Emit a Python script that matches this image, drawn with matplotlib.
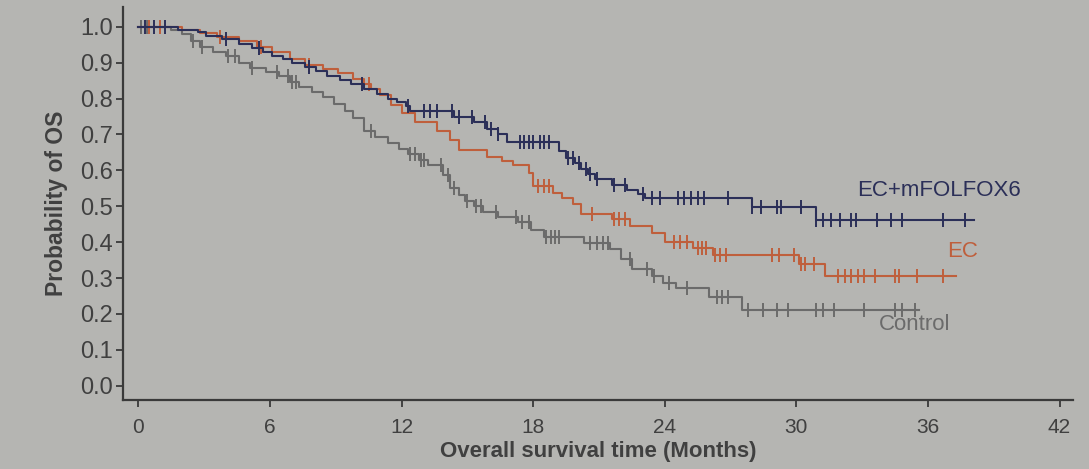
import numpy as np
import matplotlib.pyplot as plt
import matplotlib as mpl

mpl.rcParams["font.family"] = ["Liberation Sans", "DejaVu Sans"]

# ── Data (months / survival probability) ──────────────────────────────────────
combo_t = [0, 1.8, 2.7, 3.1, 3.8, 4.6, 5.2, 5.7, 6.1, 6.6, 7.0, 7.6, 8.1, 8.6,
           9.2, 9.7, 10.3, 10.9, 11.4, 11.8, 12.2, 12.4, 14.4, 15.3, 15.9, 16.4,
           16.8, 19.2, 19.5, 19.9, 20.2, 20.5, 20.8, 21.6, 22.3, 22.8, 23.1,
           28.0, 30.9, 38.1]
combo_s = [1.0, 0.99, 0.985, 0.975, 0.965, 0.953, 0.94, 0.93, 0.918, 0.91, 0.90,
           0.888, 0.876, 0.864, 0.852, 0.84, 0.828, 0.813, 0.80, 0.79, 0.778,
           0.765, 0.748, 0.735, 0.715, 0.70, 0.68, 0.655, 0.635, 0.62, 0.605,
           0.59, 0.576, 0.558, 0.545, 0.535, 0.522, 0.498, 0.463, 0.463]
combo_cens = [0.3, 0.7, 1.2, 4.0, 5.5, 7.8, 10.2, 12.3, 13.0, 13.3, 13.6, 14.3,
              14.6, 15.2, 15.8, 16.1, 16.4, 17.4, 17.6, 17.8, 18.0, 18.3, 18.5,
              18.7, 19.6, 19.8, 20.1, 20.4, 20.6, 20.9, 21.7, 22.2, 23.0, 23.4,
              23.8, 24.6, 24.9, 25.2, 25.5, 25.8, 26.9, 28.0, 28.4, 29.1, 29.3,
              30.2, 30.9, 31.2, 31.6, 32.0, 32.5, 32.7, 33.7, 34.3, 34.8, 36.7,
              37.7]

ec_t = [0, 2.0, 2.8, 3.6, 4.6, 5.4, 6.1, 6.9, 7.6, 8.4, 9.1, 9.8, 10.3, 10.6,
        11.0, 11.5, 12.0, 12.6, 13.6, 14.2, 14.6, 15.9, 16.6, 17.1, 17.8, 18.0,
        18.9, 19.3, 19.8, 20.2, 21.6, 22.4, 23.4, 24.0, 25.3, 26.2, 30.1, 31.3,
        37.3]
ec_s = [1.0, 0.99, 0.984, 0.972, 0.96, 0.945, 0.93, 0.91, 0.893, 0.882, 0.871,
        0.855, 0.84, 0.827, 0.81, 0.783, 0.76, 0.735, 0.71, 0.685, 0.658, 0.638,
        0.625, 0.615, 0.592, 0.555, 0.538, 0.522, 0.506, 0.478, 0.464, 0.446,
        0.425, 0.40, 0.385, 0.365, 0.339, 0.306, 0.306]
ec_cens = [0.5, 1.0, 3.7, 5.6, 7.8, 10.5, 18.2, 18.5, 18.7, 20.7, 21.7, 21.9,
           22.2, 24.4, 24.7, 25.0, 25.5, 25.7, 25.9, 26.3, 26.5, 26.8, 28.9,
           29.2, 29.9, 30.2, 30.4, 30.8, 31.9, 32.2, 32.5, 32.8, 33.1, 33.6,
           34.5, 34.7, 35.5, 36.7]

ctrl_t = [0, 1.5, 2.0, 2.4, 2.8, 3.4, 4.0, 4.6, 5.1, 5.8, 6.4, 6.9, 7.3, 7.9,
          8.4, 8.9, 9.4, 9.8, 10.3, 10.8, 11.4, 11.9, 12.3, 12.8, 13.2, 13.9,
          14.2, 14.6, 14.9, 15.3, 15.7, 16.4, 17.3, 17.9, 18.5, 20.3, 21.5,
          22.0, 22.5, 23.4, 23.9, 24.5, 26.0, 27.5, 35.6]
ctrl_s = [1.0, 0.99, 0.98, 0.96, 0.943, 0.93, 0.918, 0.90, 0.884, 0.874, 0.862,
          0.847, 0.833, 0.818, 0.804, 0.785, 0.766, 0.745, 0.71, 0.692, 0.675,
          0.66, 0.645, 0.628, 0.614, 0.587, 0.551, 0.53, 0.514, 0.50, 0.485,
          0.47, 0.455, 0.434, 0.414, 0.397, 0.382, 0.353, 0.325, 0.307, 0.287,
          0.272, 0.246, 0.21, 0.21]
ctrl_cens = [0.1, 0.4, 2.5, 2.9, 4.1, 4.4, 5.2, 6.3, 6.8, 7.0, 7.2, 10.6, 12.4,
             12.6, 12.9, 13.0, 13.8, 14.1, 14.4, 15.0, 15.4, 15.6, 16.3, 17.2,
             17.5, 17.8, 18.6, 18.8, 19.0, 19.2, 20.6, 20.9, 21.2, 21.4, 22.4,
             23.2, 23.5, 24.2, 25.0, 26.4, 26.6, 26.9, 27.8, 28.5, 29.1, 29.6,
             30.9, 31.2, 31.7, 33.1, 34.5, 34.8, 35.4]

X_TICKS = [0, 6, 12, 18, 24, 30, 36, 42]
Y_TICKS = [0.0, 0.1, 0.2, 0.3, 0.4, 0.5, 0.6, 0.7, 0.8, 0.9, 1.0]

BG = "#b5b5b2"
TXT = "#404040"
GROUPS = [
    ("Control",     ctrl_t,  ctrl_s,  ctrl_cens,  "#6b6b6b"),
    ("EC",          ec_t,    ec_s,    ec_cens,    "#bf5f3c"),
    ("EC+mFOLFOX6", combo_t, combo_s, combo_cens, "#2b2f58"),
]


def surv_at(times, surv, t):
    i = np.searchsorted(times, t, side="right") - 1
    return np.asarray(surv)[i]


fig = plt.figure(figsize=(10.89, 4.69), dpi=100, facecolor=BG)
ax = fig.add_axes([0.113, 0.147, 0.872, 0.838], facecolor=BG)

for name, t, s, cens, col in GROUPS:
    ax.step(t, s, where="post", color=col, lw=1.5)
    ax.plot(cens, surv_at(t, s, cens), ls="none", marker="|", ms=10,
            mew=1.4, color=col)

ax.set_xlim(-0.7, 42.6)
ax.set_ylim(-0.04, 1.055)
ax.set_xticks(X_TICKS)
ax.set_yticks(Y_TICKS)
ax.set_yticklabels([f"{v:.1f}" for v in Y_TICKS])

for side in ["top", "right"]:
    ax.spines[side].set_visible(False)
for side in ["left", "bottom"]:
    ax.spines[side].set_color("#3a3a3a")
    ax.spines[side].set_linewidth(1.6)
ax.tick_params(axis="both", colors="#3a3a3a", width=1.3, length=5,
               labelcolor=TXT)
ax.tick_params(axis="y", labelsize=17, pad=2)
ax.tick_params(axis="x", labelsize=15, pad=8)

ax.set_ylabel("Probability of OS", fontsize=16.5, fontweight="bold",
              color=TXT, labelpad=9)
ax.set_xlabel("Overall survival time (Months)", fontsize=16,
              fontweight="bold", color=TXT, labelpad=3)

ax.text(36.5, 0.545, "EC+mFOLFOX6", color="#2b2f58", fontsize=16,
        ha="center", va="center")
ax.text(38.3, 0.375, "EC", color="#bf5f3c", fontsize=16,
        ha="right", va="center")
ax.text(35.4, 0.17, "Control", color="#6b6b6b", fontsize=16,
        ha="center", va="center")

fig.savefig("out.png", dpi=100, facecolor=BG)
